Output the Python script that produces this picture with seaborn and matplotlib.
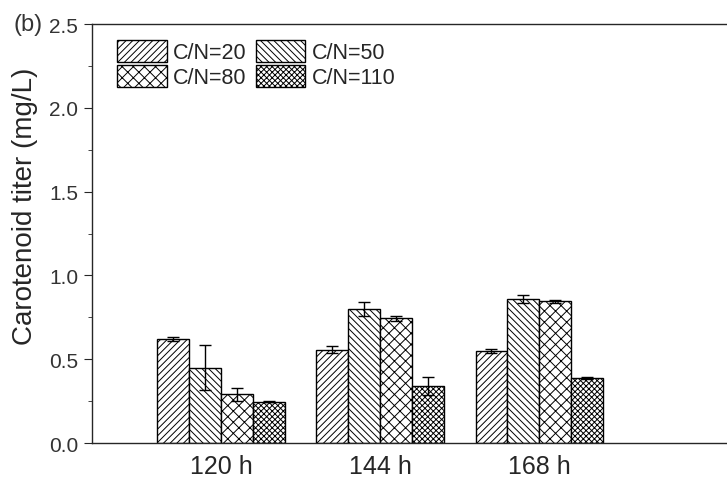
import matplotlib
matplotlib.use("Agg")
import matplotlib.pyplot as plt
import seaborn as sns
import pandas as pd
import numpy as np

times = ["120 h", "144 h", "168 h"]
ratios = ["C/N=20", "C/N=50", "C/N=80", "C/N=110"]
cn20 = [0.62, 0.557, 0.55]
cn50 = [0.45, 0.80, 0.86]
cn80 = [0.29, 0.745, 0.845]
cn110 = [0.245, 0.34, 0.388]
err20 = [0.01, 0.02, 0.01]
err50 = [0.135, 0.04, 0.023]
err80 = [0.04, 0.015, 0.008]
err110 = [0.003, 0.055, 0.008]
hatches = ["/////", "\\\\\\\\\\", "xxx", "xxxxxx"]

values = [cn20, cn50, cn80, cn110]
errors = [err20, err50, err80, err110]
df = pd.DataFrame({
    "time": times * len(ratios),
    "ratio": [r for r in ratios for _ in times],
    "titer": sum(values, []),
})

sns.set_style("ticks")
plt.rcParams["font.family"] = ["Liberation Sans", "DejaVu Sans"]
plt.rcParams["hatch.linewidth"] = 0.7

fig = plt.figure(figsize=(7.27, 4.85), dpi=100)
ax = fig.add_axes([0.1265, 0.0845, 0.8735, 0.8635])

sns.barplot(data=df, x="time", y="titer", hue="ratio", order=times,
            hue_order=ratios, errorbar=None, width=0.8,
            palette=["white"] * 4, edgecolor="black", linewidth=1.0, ax=ax)

for cont, h, err in zip(ax.containers, hatches, errors):
    xs, ys = [], []
    for bar in cont:
        bar.set_hatch(h)
        bar.set_facecolor("white")
        bar.set_edgecolor("black")
        xs.append(bar.get_x() + bar.get_width() / 2)
        ys.append(bar.get_height())
    ax.errorbar(xs, ys, yerr=err, fmt="none", ecolor="black",
                elinewidth=1.0, capsize=4, capthick=1.0)

ax.set_xlim(-0.81, 3.18)
ax.set_ylim(0, 2.5)
ax.set_yticks(np.arange(0, 2.51, 0.5))
ax.set_yticks(np.arange(0.25, 2.5, 0.5), minor=True)
ax.set_yticklabels([f"{v:.1f}" for v in np.arange(0, 2.51, 0.5)], color="#333333")
ax.tick_params(axis="y", which="major", length=6, labelsize=15, pad=4)
ax.tick_params(axis="y", which="minor", length=3)
ax.tick_params(axis="x", length=0, labelsize=18, pad=8)
ax.set_xlabel("")
ax.set_ylabel("Carotenoid titer (mg/L)", fontsize=20)
ax.yaxis.set_label_coords(-0.085, 0.568)
for side in ["left", "top", "bottom"]:
    ax.spines[side].set_linewidth(1.0)
ax.spines["right"].set_visible(False)

handles, labels = ax.get_legend_handles_labels()
for hnd, h in zip(handles, hatches):
    hnd.set_hatch(h)
    hnd.set_facecolor("white")
    hnd.set_edgecolor("black")
order = [0, 2, 1, 3]
ax.legend([handles[i] for i in order], [labels[i] for i in order], ncol=2,
          frameon=False, loc="upper left", bbox_to_anchor=(0.04, 0.962),
          fontsize=15.5, handlelength=2.3, handleheight=1.15,
          handletextpad=0.3, columnspacing=0.4, labelspacing=0.1,
          borderaxespad=0.0, borderpad=0.0)

fig.text(0.018, 0.948, "(b)", fontsize=17, va="center", color="#333333")

fig.savefig("out.png", dpi=100)
